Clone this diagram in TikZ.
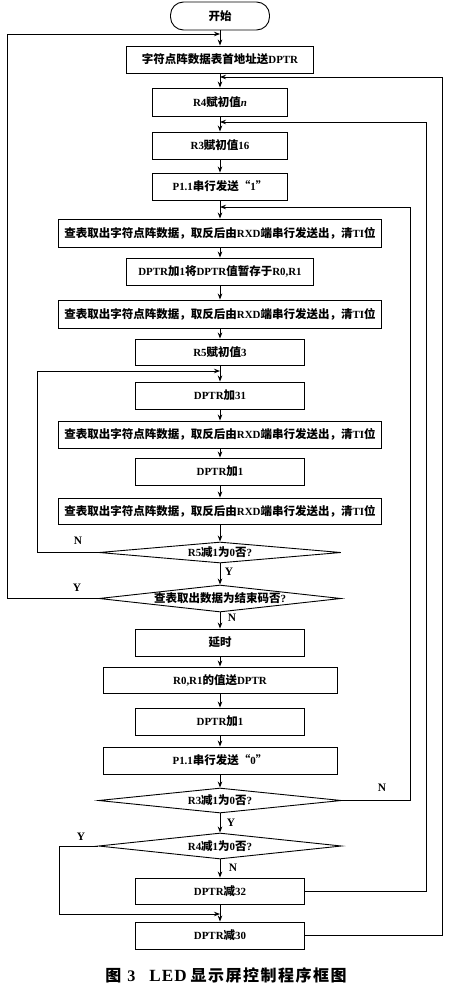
\documentclass[tikz,border=0pt]{standalone}
\usepackage{fontspec}
\setmainfont{Liberation Serif}[Scale=0.95]
\newfontfamily\cjkf{Noto Sans CJK SC}
\usetikzlibrary{arrows.meta,shapes.geometric}
\newcommand{\C}[1]{{\cjkf #1}}
\begin{document}
\begin{tikzpicture}[x=1pt,y=-1pt,
  txt/.style={font=\bfseries\fontsize{11.5}{13}\selectfont},
  box/.style={txt, draw, line width=0.9pt, minimum height=27pt, inner sep=0pt},
  dia/.style={txt, draw, diamond, aspect=1, inner sep=0pt, line width=0.9pt},
  arr/.style={line width=0.8pt, -{Stealth[length=6pt,width=4.5pt]}},
  lab/.style={font=\bfseries\fontsize{12}{13}\selectfont, inner sep=0pt}]
\useasboundingbox (0,0) rectangle (450,993);
\node[txt, draw, line width=0.9pt, rounded corners=13pt, minimum width=99pt, minimum height=28pt, inner sep=0pt] (start) at (220,16) {\C{开始}};
\node[box, minimum width=187pt] (b1) at (220,59.5) {\C{字符点阵数据表首地址送}DPTR};
\node[box, minimum width=135pt, minimum height=28pt] (b2) at (220,102) {R4\C{赋初值}\textit{n}};
\node[box, minimum width=135pt] (b3) at (220,145.5) {R3\C{赋初值}16};
\node[box, minimum width=135pt] (b4) at (220,186.5) {P1.1\C{串行发送“}1\C{”}};
\node[box, minimum width=323pt, minimum height=28pt] (b5) at (220,233) {\C{查表取出字符点阵数据，取反后由}RXD\C{端串行发送出，清}TI\C{位}};
\node[box, minimum width=187pt] (b6) at (220,271.5) {DPTR\C{加}1\C{将}DPTR\C{值暂存于}R0,R1};
\node[box, minimum width=323pt, minimum height=28pt] (b7) at (220,314) {\C{查表取出字符点阵数据，取反后由}RXD\C{端串行发送出，清}TI\C{位}};
\node[box, minimum width=169pt, minimum height=26pt] (b8) at (220,352) {R5\C{赋初值}3};
\node[box, minimum width=169pt] (b9) at (220,395.5) {DPTR\C{加}31};
\node[box, minimum width=323pt] (b10) at (220,434.5) {\C{查表取出字符点阵数据，取反后由}RXD\C{端串行发送出，清}TI\C{位}};
\node[box, minimum width=169pt] (b11) at (220,471.5) {DPTR\C{加}1};
\node[box, minimum width=323pt, minimum height=26pt] (b12) at (220,511) {\C{查表取出字符点阵数据，取反后由}RXD\C{端串行发送出，清}TI\C{位}};
\node[dia, minimum width=242pt, minimum height=21pt] (d1) at (220,552.5) {\makebox[0pt]{R5\C{减}1\C{为}0\C{否}?}};
\node[dia, minimum width=242pt, minimum height=27pt] (d2) at (220,598.5) {\makebox[0pt]{\C{查表取出数据为结束码否}?}};
\node[box, minimum width=169pt] (b13) at (220,642.5) {\C{延时}};
\node[box, minimum width=234pt, minimum height=26pt] (b14) at (220,680) {R0,R1\C{的值送}DPTR};
\node[box, minimum width=169pt] (b15) at (220,721.5) {DPTR\C{加}1};
\node[box, minimum width=234pt] (b16) at (220,760.5) {P1.1\C{串行发送“}0\C{”}};
\node[dia, minimum width=243pt, minimum height=25pt] (d3) at (220,800.5) {\makebox[0pt]{R3\C{减}1\C{为}0\C{否}?}};
\node[dia, minimum width=243pt, minimum height=26pt] (d4) at (220,846) {\makebox[0pt]{R4\C{减}1\C{为}0\C{否}?}};
\node[box, minimum width=169pt, minimum height=26pt] (b17) at (220,891) {DPTR\C{减}32};
\node[box, minimum width=169pt] (b18) at (220,935.5) {DPTR\C{减}30};
\foreach \a/\b in {start/b1,b1/b2,b2/b3,b3/b4,b4/b5,b5/b6,b6/b7,b7/b8,b8/b9,b9/b10,b10/b11,b11/b12,b12/d1,d1/d2,d2/b13,b13/b14,b14/b15,b15/b16,b16/d3,d3/d4,d4/b17,b17/b18}
  \draw[arr] (\a) -- (\b);
\coordinate (j1) at (220,34);
\coordinate (j2) at (220,77);
\coordinate (j3) at (220,122);
\coordinate (j4) at (220,207);
\coordinate (j5) at (220,371);
\coordinate (j6) at (220,914);
\draw[arr] (d2.west) -- ++(-91,0) |- (j1);
\draw[arr] (b18.east) -- ++(137.5,0) |- (j2);
\draw[arr] (b17.east) -- ++(121.5,0) |- (j3);
\draw[arr] (d3.east) -- ++(68,0) |- (j4);
\draw[arr] (d1.west) -- ++(-61,0) |- (j5);
\draw[arr] (d4.west) -- ++(-38.5,0) |- (j6);
\node[lab] (l1) at (78,541) {N};
\node[lab] (l2) at (229,572) {Y};
\node[lab] (l3) at (77,588) {Y};
\node[lab] (l4) at (232,618) {N};
\node[lab] (l5) at (382,788) {N};
\node[lab] (l6) at (231,823) {Y};
\node[lab] (l7) at (81,837) {Y};
\node[lab] (l8) at (233,868) {N};
\node[font=\bfseries\fontsize{16}{18}\selectfont, inner sep=0pt] (cap) at (226,975) {\C{图}\hspace{6pt}{\fontsize{17}{20}\selectfont 3}\hspace{14pt}{\fontsize{18}{20}\selectfont L\hspace{1pt}E\hspace{1pt}D}\hspace{4pt}\C{显\hspace{1.5pt}示\hspace{1.5pt}屏\hspace{1.5pt}控\hspace{1.5pt}制\hspace{1.5pt}程\hspace{1.5pt}序\hspace{1.5pt}框\hspace{1.5pt}图}};
\end{tikzpicture}
\end{document}
